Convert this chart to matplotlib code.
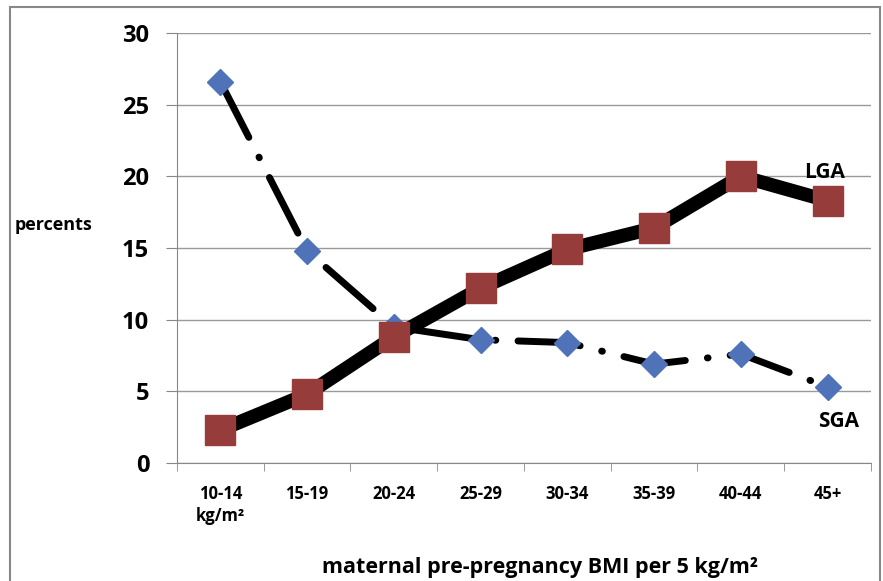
import matplotlib.pyplot as plt
from matplotlib.patches import Rectangle

plt.rcParams['font.family'] = ['Open Sans', 'DejaVu Sans']

categories = ['10-14\nkg/m²', '15-19', '20-24', '25-29', '30-34', '35-39', '40-44', '45+']
sga = [26.6, 14.8, 9.5, 8.6, 8.4, 6.9, 7.6, 5.3]
lga = [2.3, 4.8, 8.8, 12.2, 14.9, 16.4, 20.0, 18.3]

fig = plt.figure(figsize=(8.83, 5.81), dpi=100)
ax = fig.add_axes([0.2004, 0.2031, 0.786, 0.7401])

x = range(len(categories))
ax.plot(x, sga, color='black', lw=5, linestyle=(0, (9, 3.2, 0.1, 3.2)),
        dash_capstyle='round', zorder=3)
ax.plot(x, sga, linestyle='none', marker='D', ms=13, color='#4F72B8', zorder=4)
ax.plot(x, lga, color='black', lw=10, solid_capstyle='butt', zorder=5)
ax.plot(x, lga, linestyle='none', marker='s', ms=22, color='#963C3A', zorder=6)

ax.set_xlim(-0.5, 7.5)
ax.set_ylim(0, 30)
ax.set_yticks([0, 5, 10, 15, 20, 25, 30])
ax.set_xticks(list(x))
ax.set_xticklabels(categories, fontsize=12, fontweight='bold', linespacing=1.3)
ax.set_xticks([i + 0.5 for i in range(-1, 8)], minor=True)
ax.tick_params(axis='x', which='major', length=0, pad=16)
ax.tick_params(axis='x', which='minor', length=6, color='#888888')
ax.tick_params(axis='y', length=8, color='#888888', labelsize=17, pad=12)
for lbl in ax.get_yticklabels():
    lbl.set_fontweight('bold')

ax.grid(axis='y', color='#999999', lw=1)
ax.set_axisbelow(True)
for s in ['top', 'right']:
    ax.spines[s].set_visible(False)
ax.spines['left'].set_color('#888888')
ax.spines['bottom'].set_color('#888888')

ax.text(6.97, 20.3, 'LGA', fontsize=15, fontweight='bold', ha='center', va='center')
ax.text(7.13, 2.9, 'SGA', fontsize=15, fontweight='bold', ha='center', va='center')

fig.text(15 / 883, 1 - 225 / 581, 'percents', fontsize=13, fontweight='bold',
         ha='left', va='center')
fig.text(540 / 883, 1 - 567 / 581, 'maternal pre-pregnancy BMI per 5 kg/m²',
         fontsize=15.5, fontweight='bold', ha='center', va='center')

fig.patches.append(Rectangle((10 / 883, -0.05), 870 / 883, 1.05 - 7 / 581,
                             transform=fig.transFigure, fill=False,
                             edgecolor='#888888', lw=1.5))

fig.savefig('out.png', dpi=100)
